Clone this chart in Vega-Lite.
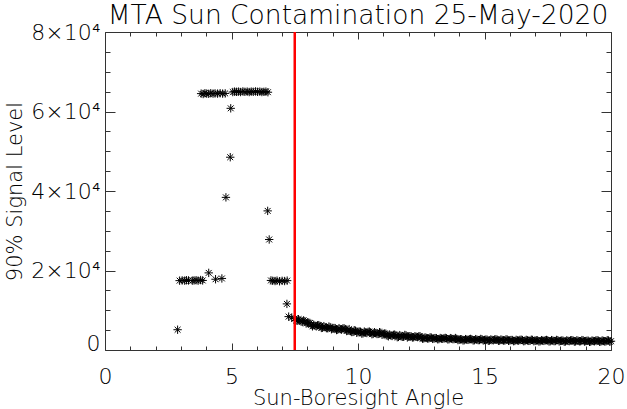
{
  "$schema": "https://vega.github.io/schema/vega-lite/v6.json",
  "width": 506,
  "height": 318,
  "autosize": {"type": "none"},
  "padding": {"left": 105, "top": 32, "right": 16, "bottom": 59},
  "background": "white",
  "title": {
    "text": "MTA Sun Contamination 25-May-2020",
    "font": "DejaVu Sans",
    "fontSize": 26.5,
    "fontWeight": 200,
    "color": "#000000",
    "anchor": "middle",
    "offset": -8
  },
  "config": {
    "view": {"stroke": null},
    "axis": {
      "grid": false,
      "domainColor": "#333333",
      "tickColor": "#333333",
      "labelColor": "#000000",
      "titleColor": "#000000",
      "labelFont": "DejaVu Sans",
      "titleFont": "DejaVu Sans",
      "labelFontSize": 22,
      "labelFontWeight": 200,
      "titleFontSize": 21,
      "titleFontWeight": 200
    }
  },
  "data": {
    "values": [
      {"angle": 2.87, "signal": 5100},
      {"angle": 2.95, "signal": 17450},
      {"angle": 3.05, "signal": 17500},
      {"angle": 3.15, "signal": 17450},
      {"angle": 3.22, "signal": 17550},
      {"angle": 3.3, "signal": 17500},
      {"angle": 3.45, "signal": 17450},
      {"angle": 3.52, "signal": 17500},
      {"angle": 3.6, "signal": 17550},
      {"angle": 3.68, "signal": 17450},
      {"angle": 3.78, "signal": 17600},
      {"angle": 3.86, "signal": 17500},
      {"angle": 4.1, "signal": 19400},
      {"angle": 4.37, "signal": 17800},
      {"angle": 4.62, "signal": 18000},
      {"angle": 4.78, "signal": 38400},
      {"angle": 4.95, "signal": 48500},
      {"angle": 4.97, "signal": 60800},
      {"angle": 3.8, "signal": 64500},
      {"angle": 3.88, "signal": 64400},
      {"angle": 3.95, "signal": 64600},
      {"angle": 4.02, "signal": 64500},
      {"angle": 4.1, "signal": 64450},
      {"angle": 4.18, "signal": 64600},
      {"angle": 4.27, "signal": 64500},
      {"angle": 4.35, "signal": 64550},
      {"angle": 4.45, "signal": 64500},
      {"angle": 4.55, "signal": 64600},
      {"angle": 4.65, "signal": 64500},
      {"angle": 4.75, "signal": 64550},
      {"angle": 5.05, "signal": 64900},
      {"angle": 5.12, "signal": 65000},
      {"angle": 5.2, "signal": 64950},
      {"angle": 5.28, "signal": 65000},
      {"angle": 5.36, "signal": 64900},
      {"angle": 5.45, "signal": 65050},
      {"angle": 5.53, "signal": 64950},
      {"angle": 5.62, "signal": 65000},
      {"angle": 5.7, "signal": 64900},
      {"angle": 5.78, "signal": 65000},
      {"angle": 5.86, "signal": 64950},
      {"angle": 5.95, "signal": 65050},
      {"angle": 6.03, "signal": 64950},
      {"angle": 6.12, "signal": 65000},
      {"angle": 6.2, "signal": 64900},
      {"angle": 6.28, "signal": 64950},
      {"angle": 6.36, "signal": 65000},
      {"angle": 6.44, "signal": 64850},
      {"angle": 6.43, "signal": 35000},
      {"angle": 6.49, "signal": 27800},
      {"angle": 6.56, "signal": 17500},
      {"angle": 6.63, "signal": 17400},
      {"angle": 6.72, "signal": 17350},
      {"angle": 6.8, "signal": 17450},
      {"angle": 6.9, "signal": 17300},
      {"angle": 7.0, "signal": 17400},
      {"angle": 7.1, "signal": 17350},
      {"angle": 7.2, "signal": 17450},
      {"angle": 7.19, "signal": 11600},
      {"angle": 7.26, "signal": 8400},
      {"angle": 7.38, "signal": 8100},
      {"angle": 7.5, "signal": 7950},
      {"angle": 7.6, "signal": 7400},
      {"angle": 7.7, "signal": 7450},
      {"angle": 7.8, "signal": 7100},
      {"angle": 7.9, "signal": 7250},
      {"angle": 8.0, "signal": 6800},
      {"angle": 8.1, "signal": 6800},
      {"angle": 8.2, "signal": 5950},
      {"angle": 8.3, "signal": 6100},
      {"angle": 8.4, "signal": 6200},
      {"angle": 8.5, "signal": 6050},
      {"angle": 8.6, "signal": 5600},
      {"angle": 8.7, "signal": 5750},
      {"angle": 8.8, "signal": 5500},
      {"angle": 8.9, "signal": 5750},
      {"angle": 9.0, "signal": 5400},
      {"angle": 9.1, "signal": 5500},
      {"angle": 9.2, "signal": 5100},
      {"angle": 9.3, "signal": 5250},
      {"angle": 9.4, "signal": 5400},
      {"angle": 9.5, "signal": 5250},
      {"angle": 9.6, "signal": 4850},
      {"angle": 9.7, "signal": 4750},
      {"angle": 9.8, "signal": 4550},
      {"angle": 9.9, "signal": 4850},
      {"angle": 10.0, "signal": 4500},
      {"angle": 10.1, "signal": 4600},
      {"angle": 10.2, "signal": 4200},
      {"angle": 10.3, "signal": 4400},
      {"angle": 10.4, "signal": 4550},
      {"angle": 10.5, "signal": 4450},
      {"angle": 10.6, "signal": 4050},
      {"angle": 10.7, "signal": 4250},
      {"angle": 10.8, "signal": 4050},
      {"angle": 10.9, "signal": 4350},
      {"angle": 11.0, "signal": 4000},
      {"angle": 11.1, "signal": 4100},
      {"angle": 11.2, "signal": 3450},
      {"angle": 11.3, "signal": 3650},
      {"angle": 11.4, "signal": 3800},
      {"angle": 11.5, "signal": 3700},
      {"angle": 11.6, "signal": 3300},
      {"angle": 11.7, "signal": 3530},
      {"angle": 11.8, "signal": 3350},
      {"angle": 11.9, "signal": 3670},
      {"angle": 12.0, "signal": 3370},
      {"angle": 12.1, "signal": 3430},
      {"angle": 12.2, "signal": 3200},
      {"angle": 12.3, "signal": 3320},
      {"angle": 12.4, "signal": 3420},
      {"angle": 12.5, "signal": 3140},
      {"angle": 12.6, "signal": 2910},
      {"angle": 12.7, "signal": 3030},
      {"angle": 12.8, "signal": 2920},
      {"angle": 12.9, "signal": 3110},
      {"angle": 13.0, "signal": 2910},
      {"angle": 13.1, "signal": 2980},
      {"angle": 13.2, "signal": 2750},
      {"angle": 13.3, "signal": 2880},
      {"angle": 13.4, "signal": 2980},
      {"angle": 13.5, "signal": 2940},
      {"angle": 13.6, "signal": 2720},
      {"angle": 13.7, "signal": 2860},
      {"angle": 13.8, "signal": 2760},
      {"angle": 13.9, "signal": 2800},
      {"angle": 14.0, "signal": 2610},
      {"angle": 14.1, "signal": 2690},
      {"angle": 14.2, "signal": 2470},
      {"angle": 14.3, "signal": 2610},
      {"angle": 14.4, "signal": 2725},
      {"angle": 14.5, "signal": 2690},
      {"angle": 14.6, "signal": 2470},
      {"angle": 14.7, "signal": 2610},
      {"angle": 14.8, "signal": 2510},
      {"angle": 14.9, "signal": 2710},
      {"angle": 15.0, "signal": 2520},
      {"angle": 15.1, "signal": 2600},
      {"angle": 15.2, "signal": 2380},
      {"angle": 15.3, "signal": 2520},
      {"angle": 15.4, "signal": 2630},
      {"angle": 15.5, "signal": 2590},
      {"angle": 15.6, "signal": 2370},
      {"angle": 15.7, "signal": 2510},
      {"angle": 15.8, "signal": 2410},
      {"angle": 15.9, "signal": 2610},
      {"angle": 16.0, "signal": 2420},
      {"angle": 16.1, "signal": 2500},
      {"angle": 16.2, "signal": 2280},
      {"angle": 16.3, "signal": 2420},
      {"angle": 16.4, "signal": 2530},
      {"angle": 16.5, "signal": 2490},
      {"angle": 16.6, "signal": 2275},
      {"angle": 16.7, "signal": 2420},
      {"angle": 16.8, "signal": 2325},
      {"angle": 16.9, "signal": 2525},
      {"angle": 17.0, "signal": 2340},
      {"angle": 17.1, "signal": 2425},
      {"angle": 17.2, "signal": 2210},
      {"angle": 17.3, "signal": 2350},
      {"angle": 17.4, "signal": 2465},
      {"angle": 17.5, "signal": 2430},
      {"angle": 17.6, "signal": 2215},
      {"angle": 17.7, "signal": 2360},
      {"angle": 17.8, "signal": 2260},
      {"angle": 17.9, "signal": 2465},
      {"angle": 18.0, "signal": 2280},
      {"angle": 18.1, "signal": 2365},
      {"angle": 18.2, "signal": 2150},
      {"angle": 18.3, "signal": 2295},
      {"angle": 18.4, "signal": 2410},
      {"angle": 18.5, "signal": 2380},
      {"angle": 18.6, "signal": 2165},
      {"angle": 18.7, "signal": 2310},
      {"angle": 18.8, "signal": 2220},
      {"angle": 18.9, "signal": 2425},
      {"angle": 19.0, "signal": 2240},
      {"angle": 19.1, "signal": 2325},
      {"angle": 19.2, "signal": 2110},
      {"angle": 19.3, "signal": 2260},
      {"angle": 19.4, "signal": 2375},
      {"angle": 19.5, "signal": 2340},
      {"angle": 19.6, "signal": 2130},
      {"angle": 19.7, "signal": 2275},
      {"angle": 19.8, "signal": 2185},
      {"angle": 19.9, "signal": 2390},
      {"angle": 20.0, "signal": 2210},
      {"angle": 7.55, "signal": 7400},
      {"angle": 7.65, "signal": 7750},
      {"angle": 7.75, "signal": 7150},
      {"angle": 7.85, "signal": 7450},
      {"angle": 7.95, "signal": 6675},
      {"angle": 8.05, "signal": 6875},
      {"angle": 8.15, "signal": 6300},
      {"angle": 8.25, "signal": 6350},
      {"angle": 8.35, "signal": 5950},
      {"angle": 8.45, "signal": 6250},
      {"angle": 8.55, "signal": 5550},
      {"angle": 8.65, "signal": 6000},
      {"angle": 8.75, "signal": 5500},
      {"angle": 8.85, "signal": 5900},
      {"angle": 8.95, "signal": 5225},
      {"angle": 9.05, "signal": 5525},
      {"angle": 9.15, "signal": 5025},
      {"angle": 9.25, "signal": 5500},
      {"angle": 9.35, "signal": 5125},
      {"angle": 9.45, "signal": 5450},
      {"angle": 9.55, "signal": 4775},
      {"angle": 9.65, "signal": 5250},
      {"angle": 9.75, "signal": 4525},
      {"angle": 9.85, "signal": 4975},
      {"angle": 9.95, "signal": 4325},
      {"angle": 10.05, "signal": 4625},
      {"angle": 10.15, "signal": 4125},
      {"angle": 10.25, "signal": 4625},
      {"angle": 10.35, "signal": 4275},
      {"angle": 10.45, "signal": 4625},
      {"angle": 10.55, "signal": 3975},
      {"angle": 10.65, "signal": 4475},
      {"angle": 10.75, "signal": 4025},
      {"angle": 10.85, "signal": 4475},
      {"angle": 10.95, "signal": 3825},
      {"angle": 11.05, "signal": 4125},
      {"angle": 11.15, "signal": 3600},
      {"angle": 11.25, "signal": 3875},
      {"angle": 11.35, "signal": 3525},
      {"angle": 11.45, "signal": 3875},
      {"angle": 11.55, "signal": 3225},
      {"angle": 11.65, "signal": 3740},
      {"angle": 11.75, "signal": 3315},
      {"angle": 11.85, "signal": 3785},
      {"angle": 11.95, "signal": 3160},
      {"angle": 12.05, "signal": 3445},
      {"angle": 12.15, "signal": 3150},
      {"angle": 12.25, "signal": 3455},
      {"angle": 12.35, "signal": 3250},
      {"angle": 12.45, "signal": 3480},
      {"angle": 12.55, "signal": 2860},
      {"angle": 12.65, "signal": 3165},
      {"angle": 12.75, "signal": 2900},
      {"angle": 12.85, "signal": 3180},
      {"angle": 12.95, "signal": 2800},
      {"angle": 13.05, "signal": 2990},
      {"angle": 13.15, "signal": 2700},
      {"angle": 13.25, "signal": 3010},
      {"angle": 13.35, "signal": 2810},
      {"angle": 13.45, "signal": 3035},
      {"angle": 13.55, "signal": 2665},
      {"angle": 13.65, "signal": 2985},
      {"angle": 13.75, "signal": 2735},
      {"angle": 13.85, "signal": 3010},
      {"angle": 13.95, "signal": 2495},
      {"angle": 14.05, "signal": 2695},
      {"angle": 14.15, "signal": 2415},
      {"angle": 14.25, "signal": 2735},
      {"angle": 14.35, "signal": 2548},
      {"angle": 14.45, "signal": 2783},
      {"angle": 14.55, "signal": 2415},
      {"angle": 14.65, "signal": 2735},
      {"angle": 14.75, "signal": 2485},
      {"angle": 14.85, "signal": 2775},
      {"angle": 14.95, "signal": 2405},
      {"angle": 15.05, "signal": 2605},
      {"angle": 15.15, "signal": 2325},
      {"angle": 15.25, "signal": 2645},
      {"angle": 15.35, "signal": 2455},
      {"angle": 15.45, "signal": 2685},
      {"angle": 15.55, "signal": 2315},
      {"angle": 15.65, "signal": 2635},
      {"angle": 15.75, "signal": 2385},
      {"angle": 15.85, "signal": 2675},
      {"angle": 15.95, "signal": 2305},
      {"angle": 16.05, "signal": 2505},
      {"angle": 16.15, "signal": 2225},
      {"angle": 16.25, "signal": 2545},
      {"angle": 16.35, "signal": 2355},
      {"angle": 16.45, "signal": 2585},
      {"angle": 16.55, "signal": 2218},
      {"angle": 16.65, "signal": 2543},
      {"angle": 16.75, "signal": 2298},
      {"angle": 16.85, "signal": 2590},
      {"angle": 16.95, "signal": 2223},
      {"angle": 17.05, "signal": 2428},
      {"angle": 17.15, "signal": 2153},
      {"angle": 17.25, "signal": 2475},
      {"angle": 17.35, "signal": 2288},
      {"angle": 17.45, "signal": 2523},
      {"angle": 17.55, "signal": 2158},
      {"angle": 17.65, "signal": 2483},
      {"angle": 17.75, "signal": 2235},
      {"angle": 17.85, "signal": 2528},
      {"angle": 17.95, "signal": 2163},
      {"angle": 18.05, "signal": 2368},
      {"angle": 18.15, "signal": 2093},
      {"angle": 18.25, "signal": 2418},
      {"angle": 18.35, "signal": 2233},
      {"angle": 18.45, "signal": 2470},
      {"angle": 18.55, "signal": 2108},
      {"angle": 18.65, "signal": 2433},
      {"angle": 18.75, "signal": 2190},
      {"angle": 18.85, "signal": 2488},
      {"angle": 18.95, "signal": 2123},
      {"angle": 19.05, "signal": 2328},
      {"angle": 19.15, "signal": 2053},
      {"angle": 19.25, "signal": 2380},
      {"angle": 19.35, "signal": 2198},
      {"angle": 19.45, "signal": 2433},
      {"angle": 19.55, "signal": 2070},
      {"angle": 19.65, "signal": 2398},
      {"angle": 19.75, "signal": 2155},
      {"angle": 19.85, "signal": 2453},
      {"angle": 19.95, "signal": 2090}
    ]
  },
  "layer": [
    {
      "mark": {
        "type": "point",
        "shape": "M-1,0L1,0M0,-1L0,1M-0.7,-0.7L0.7,0.7M-0.7,0.7L0.7,-0.7",
        "filled": false,
        "stroke": "#000000",
        "strokeWidth": 1,
        "opacity": 1,
        "size": 70
      },
      "encoding": {
        "x": {
          "field": "angle",
          "type": "quantitative",
          "scale": {"domain": [0, 20], "nice": false, "zero": false},
          "axis": {
            "orient": "bottom",
            "title": "Sun-Boresight Angle",
            "values": [0,1,2,3,4,5,6,7,8,9,10,11,12,13,14,15,16,17,18,19,20],
            "labelExpr": "datum.value % 5 === 0 ? datum.label : ''",
            "tickSize": {"condition": {"test": "datum.value % 5 === 0", "value": -7}, "value": -4},
            "labelPadding": 23,
            "labelFlush": false,
            "labelOverlap": false,
            "titlePadding": -3
          }
        },
        "y": {
          "field": "signal",
          "type": "quantitative",
          "scale": {"domain": [0, 80000], "nice": false},
          "axis": {
            "orient": "left",
            "title": "90% Signal Level",
            "values": [0,5000,10000,15000,20000,25000,30000,35000,40000,45000,50000,55000,60000,65000,70000,75000,80000],
            "labelExpr": "datum.value === 0 ? '0' : (datum.value % 20000 === 0 ? (datum.value / 10000) + '×10⁴' : '')",
            "tickSize": {"condition": {"test": "datum.value % 20000 === 0", "value": -10}, "value": -5},
            "labelOffset": {"condition": {"test": "datum.value === 0", "value": -7}, "value": 0},
            "labelPadding": 15,
            "labelFlush": false,
            "labelOverlap": false,
            "titlePadding": 5
          }
        }
      }
    },
    {
      "data": {"values": [{"angle": 7.5}]},
      "mark": {"type": "rule", "color": "#ff0000", "strokeWidth": 2.5},
      "encoding": {
        "x": {
          "field": "angle",
          "type": "quantitative",
          "axis": {
            "orient": "top",
            "title": null,
            "labels": false,
            "values": [0,1,2,3,4,5,6,7,8,9,10,11,12,13,14,15,16,17,18,19,20],
            "tickSize": {"condition": {"test": "datum.value % 5 === 0", "value": -7}, "value": -4}
          }
        }
      }
    },
    {
      "mark": {"type": "point", "opacity": 0},
      "encoding": {
        "x": {"field": "angle", "type": "quantitative", "axis": null},
        "y": {
          "field": "signal",
          "type": "quantitative",
          "axis": {
            "orient": "right",
            "title": null,
            "labels": false,
            "values": [0,5000,10000,15000,20000,25000,30000,35000,40000,45000,50000,55000,60000,65000,70000,75000,80000],
            "tickSize": {"condition": {"test": "datum.value % 20000 === 0", "value": -10}, "value": -5}
          }
        }
      }
    }
  ],
  "resolve": {"axis": {"x": "independent", "y": "independent"}}
}
